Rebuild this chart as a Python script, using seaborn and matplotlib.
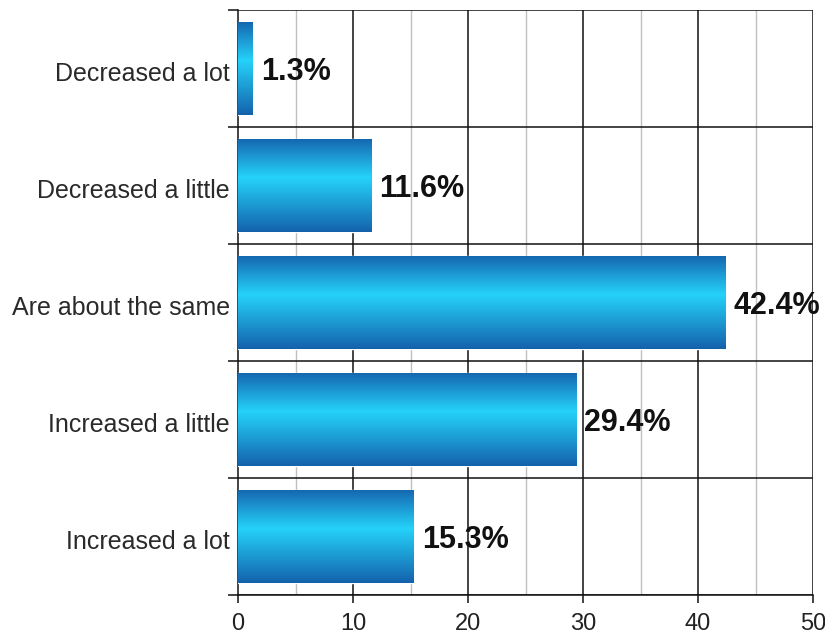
import numpy as np
import seaborn as sns
import matplotlib
matplotlib.use("Agg")
import matplotlib.pyplot as plt
from matplotlib.colors import LinearSegmentedColormap
from matplotlib.transforms import ScaledTranslation

categories = ["Decreased a lot", "Decreased a little", "Are about the same",
              "Increased a little", "Increased a lot"]
values = [1.3, 11.6, 42.4, 29.4, 15.3]
labels = ["1.3%", "11.6%", "42.4%", "29.4%", "15.3%"]
xticks = [0, 10, 20, 30, 40, 50]

sns.set_style("white")
plt.rcParams["font.family"] = ["Liberation Sans", "DejaVu Sans"]

fig = plt.figure(figsize=(8.25, 6.38), dpi=100)
ax = fig.add_axes([0.2885, 0.0674, 0.697, 0.917])

sns.barplot(x=values, y=categories, orient="h", width=0.8, color="#1a8ad0",
            ax=ax, zorder=3)

# vertical gradient: dark edges, bright cyan core
grad = LinearSegmentedColormap.from_list(
    "bar", [(0.0, "#1565ae"), (0.42, "#25d2fa"), (1.0, "#1462ab")])
g = np.linspace(0, 1, 256).reshape(-1, 1)
for p in ax.patches:
    x0, y0 = p.get_x(), p.get_y()
    w, h = p.get_width(), p.get_height()
    im = ax.imshow(g, cmap=grad, aspect="auto", zorder=4,
                   extent=[x0, x0 + w, y0 + h, y0], origin="upper")
    im.set_clip_path(p)

for i, (v, lab) in enumerate(zip(values, labels)):
    ax.text(v + 0.7, i + 0.03, lab, va="center", ha="left", fontsize=22,
            fontweight="bold", color="#111111", zorder=5)

ax.set_xlim(0, 50)
ax.set_ylim(4.5, -0.5)

# grid: black at tens, grey at fives, black between categories
for x in range(5, 50, 10):
    ax.axvline(x, color="#c0c0c0", lw=1, zorder=1)
for x in xticks[1:]:
    ax.axvline(x, color="#111111", lw=1.1, zorder=1)
for yb in np.arange(-0.5, 5, 1):
    ax.axhline(yb, color="#111111", lw=1.1, zorder=1)

for s in ["top", "right"]:
    ax.spines[s].set_visible(False)
for s in ["left", "bottom"]:
    ax.spines[s].set_color("#111111")
    ax.spines[s].set_linewidth(1.1)

ax.set_xticks(xticks)
ax.set_xticklabels([str(t) for t in xticks], fontsize=17, color="#222222")
ax.tick_params(axis="x", length=6, width=1.1, color="#111111", pad=7, bottom=True)
ax.set_yticks(range(len(categories)))
ax.set_yticklabels(categories, fontsize=18, color="#2a2a2a")
ax.tick_params(axis="y", which="major", length=0, pad=6)
ax.set_yticks(np.arange(-0.5, 5, 1), minor=True)
ax.tick_params(axis="y", which="minor", length=7, width=1.1, color="#111111", left=True)
shift = ScaledTranslation(0, -3 / 100, fig.dpi_scale_trans)
for t in ax.get_yticklabels():
    t.set_transform(t.get_transform() + shift)
ax.set_xlabel("")
ax.set_ylabel("")

fig.savefig("out.png", dpi=100)
